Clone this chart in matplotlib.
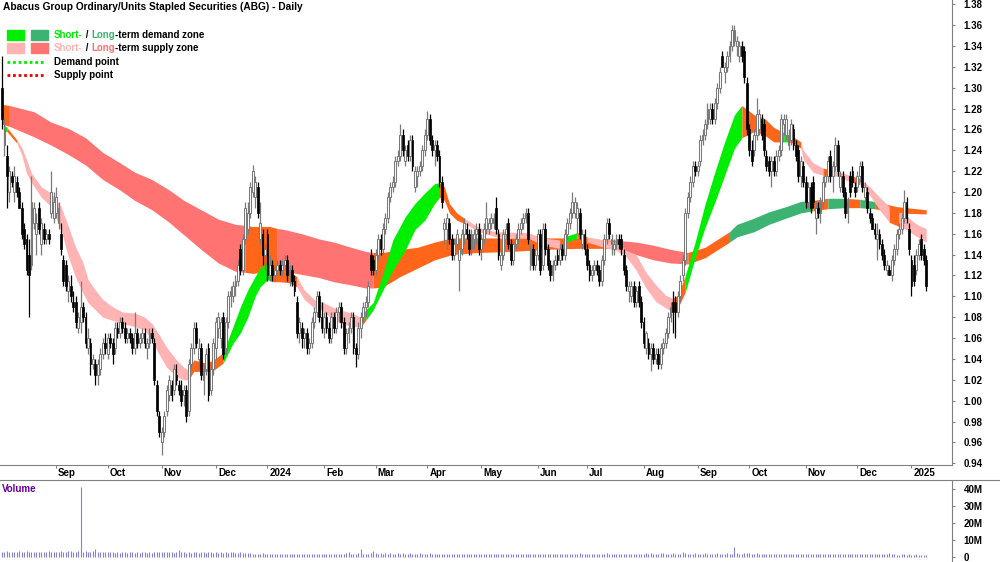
import numpy as np
import pandas as pd
import matplotlib
matplotlib.use("Agg")
import matplotlib.pyplot as plt
from matplotlib.patches import Rectangle
from matplotlib.lines import Line2D

plt.rcParams['font.family'] = ['Liberation Sans', 'DejaVu Sans']

# ---- daily prices in cents, first bar = 2 Aug 2023 (one line per month) ----
opens = [
    130, 124.5, 123.5, 120, 121.5, 120, 121, 120, 118.5, 116.5, 115.5, 114, 113, 117, 116, 118.5, 115, 116.5, 115.5, 116, 118, 117.5,
    118, 117, 116, 113.5, 113, 110.5, 111, 109.5, 109.5, 107, 107.5, 109, 108, 105, 105.5, 103.5, 103.5, 102.5, 103, 104.5, 105.5,
    104.5, 106, 105.5, 105, 107, 106.5, 107.5, 107, 106, 106.5, 106, 105, 106.5, 105.5, 106, 106.5, 105, 105.5, 106.5, 105.5, 101.5, 98.5,
    96, 97, 99, 100.5, 101.5, 101, 102.5, 101.5, 101, 100.5, 101, 99, 103.5, 105, 107, 104, 105, 102, 103, 105, 101, 103,
    105, 107, 106, 108, 105, 107.5, 110, 110, 111, 111.5, 114.5, 112.5, 115.5, 116.5, 118, 120, 119.5, 120.5, 115.5, 116, 114,
    116, 112, 113, 112, 112.5, 113, 112.5, 113, 113.5, 112, 112.5, 111.5, 109.5, 106.5, 107, 106, 106.5, 105, 105.5, 107.5, 108.5, 110, 108,
    107, 108, 107, 106, 108, 107, 108.5, 109, 107.5, 105, 106.5, 107, 108, 105, 104.5, 107, 108, 109, 109.5, 114, 113.5,
    112.5, 114, 115.5, 114.5, 116.5, 117.5, 119.5, 120.5, 121, 123, 123.5, 125.5, 123, 124.5, 123.5, 125, 120.5, 121.5, 122, 122.5, 124,
    125.5, 127, 125, 124, 124.5, 123.5, 121, 116.5, 116.5, 117, 115.5, 114, 115, 113.5, 114.5, 116, 116.5, 116, 114.5, 115.5, 116, 116.5,
    114.5, 115.5, 116.5, 116.5, 117, 117, 118.5, 116, 113, 114, 116, 117, 115, 113.5, 115, 115.5, 116.5, 117, 117.5, 118, 113, 114.5, 113,
    114, 116, 113, 116.5, 114.5, 113, 112, 113, 114, 113.5, 114.5, 114, 116, 117, 118, 118, 117.5, 118, 115, 116,
    114.5, 113, 112, 112.5, 113, 112.5, 111.5, 113.5, 115.5, 117, 115, 114.5, 115, 115.5, 115.5, 114, 112.5, 110.5, 110, 111, 109.5, 111, 109.5,
    107.5, 105, 105.5, 104.5, 105, 104, 104.5, 103.5, 105, 105.5, 106.5, 108, 109.5, 109.5, 108.5, 110, 112, 113.5, 118, 119.5, 121, 122.5,
    122, 123, 125, 125.5, 126.5, 127, 128, 127, 128.5, 130, 133, 131.5, 132, 133, 134, 134.5, 134, 133, 134, 133.5, 130.5,
    126, 124, 124, 125.5, 126, 127, 126.5, 123.5, 123, 122, 123, 122, 123.5, 124, 126.5, 125.5, 124.5, 125, 126, 124.5, 124, 121.5, 122.5,
    121, 119, 120.5, 121, 117.5, 118.5, 118, 119, 121, 121.5, 123.5, 121.5, 122.5, 124.5, 120.5, 121.5, 120, 118, 121.5, 122, 120.5,
    120.5, 121.5, 122.5, 119.5, 120, 118, 117.5, 116.5, 115.5, 116, 115, 114, 112.5, 112.5, 112, 113.5, 114.5, 116, 116.5, 117.5, 119, 116.5,
    113.5, 113, 112.5, 114, 115.5, 114.5, 113.5,
]
highs = [
    133, 127, 124.5, 122.5, 122, 122.5, 121.5, 120.5, 119, 117, 116, 115.5, 121.5, 119, 118, 119, 117.5, 117, 116.5, 116.5, 122, 120,
    120.5, 119, 117, 114, 113.5, 112, 112, 110.5, 110, 108.5, 111.5, 109.5, 108.5, 107, 106, 104.5, 104, 104, 105, 106, 106.5,
    106.5, 106.5, 106, 107.5, 107.5, 108, 108, 107.5, 107, 107, 106.5, 108.5, 107, 106.5, 107, 107, 106, 107, 107, 106, 102, 99,
    97.5, 99, 101.5, 102.5, 102, 103.5, 103.5, 102, 102, 101.5, 101.5, 104, 105.5, 107.5, 107.5, 106, 105.5, 103.5, 105, 105.5, 103.5, 106,
    108, 108.5, 108, 108.5, 108, 110.5, 111, 111.5, 112, 113.5, 115, 116, 119, 119, 121, 122.6, 121.5, 121, 119, 116.5, 115,
    116.5, 114, 113.5, 113, 113.5, 113.5, 113.5, 114, 114, 113, 113, 112, 110, 108, 107.5, 107, 107, 106, 108, 109, 110.5, 110.5, 109.5,
    108.5, 108.5, 107.5, 108.5, 108.5, 109, 109.5, 109.5, 108, 107, 107.5, 108.5, 108.5, 105.5, 107.5, 108.5, 109.5, 110, 111.5, 114.5, 114,
    114.5, 116, 116, 117, 118, 120, 121, 121.5, 123.5, 124, 126.5, 126, 124.5, 125, 125.5, 125.5, 122.5, 122.5, 123, 124.5, 126,
    127.8, 127.5, 125.5, 125, 125, 124, 121.5, 117.5, 118, 117.5, 116, 115.5, 116.5, 115.5, 116.5, 117.5, 117, 116.5, 116.5, 116.5, 117, 117,
    116, 117, 119, 117.5, 118, 118, 119.5, 116.5, 114.5, 116.5, 117, 117.5, 115.5, 115.5, 116, 117, 117.5, 118, 118.5, 118.5, 115, 115, 114.5,
    116.5, 116.5, 117, 117, 115, 113.5, 113.5, 114, 114.5, 115, 115, 116.5, 117.5, 118.5, 120, 119.5, 119, 118.5, 116.5, 116.5,
    115, 113.5, 113, 113.5, 113.5, 113, 114, 116, 117.5, 117.5, 116, 115.5, 116, 116, 116, 114.5, 113, 111.5, 111.5, 111.5, 111, 111.5, 110,
    108, 106.7, 106, 105.5, 105.5, 105, 105, 105.5, 106, 107, 108.5, 109.5, 110.5, 110, 110.5, 112, 114, 118.5, 120, 121.5, 123, 123,
    123, 125.5, 126, 127, 128.5, 128.5, 128.5, 129, 130.5, 132, 133.5, 132.5, 133.5, 134.5, 136, 136, 135, 134.5, 134.5, 134, 131,
    126.5, 125, 126, 129, 128, 127.5, 127, 124, 123.5, 123.5, 123.5, 124, 124.5, 127.5, 127.5, 127.5, 126, 127, 126.5, 125, 124.5, 123.5, 123,
    121.5, 121, 121, 121.5, 119, 119, 119.5, 121.5, 122, 123.5, 124, 123, 125.3, 125, 122, 122, 120.5, 119.5, 122, 122.5, 121,
    122, 123, 123, 121, 120.5, 118.5, 118, 117, 117, 116.5, 115.5, 114.5, 113.5, 113, 114, 115, 116.5, 117, 118, 120.2, 119.5, 117,
    114, 114, 114.5, 115.5, 116, 115, 114,
]
lows = [
    126, 123.5, 118.5, 119, 120.5, 119, 119.5, 118.5, 115.5, 114.5, 112, 108, 112.5, 116.5, 114, 116, 114, 115, 115, 115, 117.5, 117,
    117.5, 116.5, 114, 111, 110.5, 109.5, 109.5, 108.5, 107, 106.5, 106.5, 107.5, 105, 104.5, 102.5, 103, 101.5, 101.5, 102.5, 104, 104.5,
    104, 105, 103.5, 104.5, 106, 106, 106.5, 105.5, 105.5, 105.5, 104.5, 104.5, 105, 105, 105.5, 105, 104, 105, 105.5, 101.5, 98.5, 96.5,
    94.8, 96.5, 98.5, 100, 100, 100.5, 101.5, 100.5, 99.5, 99.5, 98, 98.5, 103, 104.5, 105, 103, 102, 100.5, 102.5, 100, 100.5, 102.5,
    104, 106, 105, 104, 104.5, 107, 109, 109.5, 110, 111, 112, 112, 115, 116, 117.5, 119.5, 118.5, 117.5, 115, 113, 112.5,
    111.5, 111.5, 111.5, 111.5, 112, 112, 112, 112.5, 111.5, 111, 111, 110, 106, 105.5, 105, 105, 104.5, 104.5, 105, 107, 108, 107.5, 106.5,
    106, 106.5, 105.5, 105.5, 106.5, 106.5, 107.5, 107, 104.5, 104.5, 105.5, 106.5, 104.5, 103.2, 104, 106, 107.5, 108, 109, 112, 112,
    112, 113.5, 114, 114, 116, 117, 119, 120, 120.5, 122.5, 123, 123.5, 122.5, 123, 123, 122, 120, 120.5, 121.5, 122, 123.5,
    125, 124.5, 123.5, 122.5, 123, 120.5, 118.5, 115, 114.5, 115, 113.5, 113.5, 114.5, 110.5, 114, 115, 115.5, 114, 114, 114.5, 115, 114,
    113.5, 115, 116, 116, 116.5, 116.5, 116, 113.5, 112.5, 113.5, 115.5, 114.5, 113, 113, 114.5, 115, 116, 116.5, 117, 115, 112.5, 112.5, 112.5,
    113.5, 112, 112.5, 114, 112.5, 111.5, 111.5, 112.5, 113, 113, 113.5, 113.5, 115.5, 116.5, 117.5, 117.5, 116, 115.5, 114.5, 114,
    112.5, 111.5, 111.5, 112, 112, 111, 111, 113, 115, 115.5, 114, 114, 114.5, 114.5, 114, 112, 110.5, 109.5, 109.5, 109, 109, 109, 107,
    105, 104.5, 104, 102.8, 103.5, 103.5, 103, 103, 104.5, 105, 106, 107.5, 106.5, 106, 108, 109.5, 111.5, 113, 117.5, 119, 120.5, 121.5,
    121.5, 122.5, 124.5, 125, 126, 126.5, 126.5, 126.5, 128, 129.5, 132, 130.5, 131.5, 132.5, 133.5, 134, 133, 132.5, 132.5, 130.5, 125.5,
    123.5, 122.5, 123.5, 125, 125.5, 125, 123.5, 122, 121.5, 120.5, 121.5, 121.5, 123, 123.5, 125.5, 125, 124, 124.5, 124, 123, 121, 120.5, 120.5,
    118.5, 118.5, 118, 118.5, 116, 117.5, 117, 118.5, 120.5, 121, 121, 120, 122, 121.5, 120, 119.5, 117.5, 117, 119.5, 120.5, 119.5,
    120, 121, 120, 119, 118, 117, 116.5, 115.5, 113.5, 114.5, 113.5, 112.5, 112, 112, 111.5, 113, 114, 115.5, 116, 117, 117, 114,
    110, 111, 112, 113.5, 113.5, 113, 110.5,
]
closes = [
    127, 126, 121.5, 122, 121, 121.5, 120, 118.5, 116, 115, 112.5, 112, 119, 118.5, 117, 116.5, 117, 115.5, 116, 115.5, 120, 119,
    119.5, 118.5, 114.5, 111.5, 111, 111.5, 110, 109, 107.5, 108, 109, 108, 105.5, 106, 103.5, 104, 102.5, 103.5, 104.5, 105.5, 105,
    106, 105.5, 104.5, 107, 106.5, 107.5, 107, 106, 106.5, 106, 105, 106.5, 105.5, 106, 106.5, 105.5, 105.5, 106.5, 106, 102, 99, 97,
    97, 98.5, 101, 102, 100.5, 103, 102, 101, 100, 101, 98.5, 103.5, 105, 107, 105.5, 105, 102.5, 103, 104.5, 100.5, 103, 105.5,
    107.5, 108, 107.5, 104.5, 107.5, 110, 110.5, 111, 111.5, 113, 112.5, 115.5, 118.5, 118, 120.5, 122, 121, 118, 117, 114, 114.5,
    112, 113, 112, 112.5, 113, 112.5, 113, 113.5, 112, 112.5, 111.5, 110.5, 106.5, 107.5, 106, 106.5, 105, 105.5, 107.5, 108.5, 110, 108, 107,
    108, 107, 106, 108, 107, 108.5, 109, 107.5, 105, 106.5, 107, 108, 105, 104.5, 107, 108, 109, 109.5, 111, 112.5, 112.5,
    114, 115.5, 114.5, 116.5, 117.5, 119.5, 120.5, 121, 123, 123.5, 125.5, 124, 124, 123.5, 125, 122.5, 122, 122, 122.5, 124, 125.5,
    127, 125, 124, 124.5, 123.5, 121, 119, 117, 117.5, 115.5, 114, 115, 116, 114.5, 116, 117, 116, 114.5, 116, 116, 116.5, 114.5,
    115.5, 116.5, 117.5, 117, 117.5, 117.5, 116.5, 114, 114, 116, 116.5, 115, 113.5, 115, 115.5, 116.5, 117, 117.5, 118, 115.5, 114.5, 113, 114,
    116, 112.5, 116.5, 114.5, 113, 112, 113, 113.5, 113.5, 114.5, 114, 116, 117, 118, 119, 119, 118.5, 116, 116, 114.5,
    113, 112, 112.5, 113, 112.5, 111.5, 113.5, 115.5, 117, 116, 115.5, 115, 115.5, 115, 114.5, 112.5, 111, 111, 111, 109.5, 110.5, 109.5, 107.5,
    105.5, 106.5, 104.5, 105, 104, 104.5, 103.5, 105, 105.5, 106.5, 108, 109, 108.5, 108.5, 110, 111.5, 113.5, 118, 119.5, 121, 122.5, 122,
    122.5, 125, 125.5, 126.5, 128, 128, 127, 128.5, 130, 131.5, 132, 132, 133, 134, 135.5, 135.5, 134.5, 134, 133, 131, 126,
    124, 123, 125.5, 127.5, 127.5, 125.5, 124, 122.5, 122, 123, 122, 123.5, 124, 127, 127, 127, 125.5, 126.5, 124.5, 123.5, 121.5, 123, 121,
    119, 120.5, 118.5, 119, 118.5, 118, 119, 121, 121.5, 123, 121.5, 122.5, 124.5, 122, 121.5, 120, 118, 119, 120, 121, 120,
    121.5, 122.5, 120.5, 120.5, 118.5, 117.5, 116.5, 116, 116, 115, 114, 113, 113, 112, 113.5, 114.5, 116, 116.5, 117.5, 119, 117.5, 114.5,
    111, 111.5, 114, 115, 114, 113.5, 111,
]
# daily volume, millions of units
volume_m = [
    3.2, 2.9, 3.4, 2.8, 3.0, 2.7, 3.1, 3.3, 2.9, 3.0, 3.6, 3.2, 2.8, 3.0, 2.9, 3.1, 2.7, 3.0, 2.8, 3.3, 3.0, 2.9,
    3.1, 3.0, 3.4, 3.2, 2.9, 3.5, 3.3, 3.0, 3.1, 3.8, 41.0, 3.2, 3.4, 3.0, 3.1, 3.6, 4.7, 3.1, 2.9, 3.2, 3.0,
    2.8, 2.7, 3.0, 2.6, 2.9, 2.5, 2.7, 2.8, 2.6, 3.0, 2.7, 2.5, 2.8, 2.6, 2.9, 2.7, 2.6, 2.8, 2.5, 2.7, 3.2, 3.0,
    3.1, 2.8, 3.0, 2.7, 2.9, 2.6, 3.0, 4.1, 2.8, 2.7, 2.6, 2.9, 2.5, 2.7, 2.8, 2.6, 2.7, 2.9, 2.6, 2.8, 2.7, 2.5,
    2.7, 2.6, 2.8, 2.5, 2.7, 2.6, 2.9, 2.8, 2.6, 2.5, 2.7, 2.4, 2.6, 2.5, 2.3, 2.0, 1.8, 1.9, 2.0, 2.1, 1.7,
    1.9, 1.8, 2.0, 1.7, 1.9, 1.8, 2.0, 1.7, 1.8, 1.9, 1.6, 1.8, 1.7, 1.9, 1.6, 1.8, 1.7, 1.6, 1.8, 1.7, 1.9, 1.6, 1.8,
    1.7, 1.8, 1.6, 1.9, 1.7, 1.8, 2.0, 1.7, 1.9, 2.2, 3.0, 2.0, 1.9, 1.8, 2.1, 4.7, 1.9, 1.8, 2.0, 2.4, 3.5,
    2.2, 1.9, 2.3, 2.0, 2.1, 1.9, 2.4, 2.0, 1.8, 2.1, 1.9, 2.2, 2.0, 1.8, 2.1, 1.9, 2.0, 1.8, 2.2, 1.9, 2.0,
    1.9, 2.1, 1.8, 2.0, 1.9, 1.7, 2.0, 1.8, 1.9, 1.7, 2.0, 1.8, 1.6, 1.9, 1.7, 1.8, 1.6, 1.9, 1.7, 1.8, 1.6, 1.7,
    1.8, 1.6, 1.7, 1.9, 1.6, 1.8, 1.7, 1.6, 1.8, 1.7, 1.9, 1.6, 1.7, 1.8, 1.6, 1.7, 1.9, 1.6, 1.8, 1.7, 1.6, 1.8, 1.7,
    1.6, 1.8, 1.7, 1.9, 1.6, 1.7, 1.8, 1.6, 1.7, 1.9, 1.6, 1.8, 1.7, 1.6, 1.8, 1.7, 1.9, 2.4, 1.7, 1.8,
    1.7, 1.6, 1.8, 1.7, 1.9, 1.6, 1.8, 1.7, 2.6, 1.8, 1.7, 1.6, 1.9, 1.7, 1.8, 1.6, 1.7, 1.9, 1.8, 1.7, 1.6, 1.8, 1.9,
    2.0, 2.2, 1.9, 2.1, 1.8, 2.0, 1.9, 2.1, 2.6, 1.9, 2.0, 1.8, 2.1, 1.9, 2.0, 1.8, 2.7, 2.1, 1.9, 2.0, 1.8, 2.2,
    1.9, 2.0, 1.8, 2.1, 1.9, 2.0, 1.8, 1.9, 2.1, 1.8, 2.0, 1.9, 2.1, 1.8, 2.0, 5.8, 2.1, 1.9, 2.0, 2.3, 2.6,
    2.2, 2.0, 1.9, 2.1, 1.8, 2.0, 1.9, 1.8, 2.0, 1.7, 1.9, 1.8, 1.7, 1.9, 1.8, 1.6, 1.8, 1.7, 1.9, 1.6, 1.8, 1.7, 1.9,
    1.7, 1.8, 1.6, 1.8, 1.7, 1.9, 1.6, 1.8, 1.7, 1.6, 1.8, 1.7, 1.9, 1.6, 1.7, 1.8, 1.6, 1.7, 1.8, 1.6, 1.7,
    1.7, 1.6, 1.8, 1.7, 1.6, 1.8, 1.7, 1.9, 1.6, 1.8, 1.7, 1.6, 2.0, 2.6, 1.8, 1.5, 1.3, 1.4, 1.6, 1.5, 1.4, 1.5,
    1.4, 1.3, 1.5, 1.4, 1.3, 1.4, 1.2,
]

# ---- trend zones, read at sample bars: bar index, upper edge, lower edge, zone state ----
# states: G short demand, D long demand, P short supply, R long supply, O overlap/neutral
long_idx = [0, 3, 13, 20, 27, 34, 41, 48, 54, 61, 68, 74, 81, 88, 95, 99, 102, 109, 112, 115, 122, 129,
            135, 142, 148, 151, 155, 162, 169, 176, 183, 193, 207, 220, 234, 247, 249, 258, 265, 272, 279,
            286, 292, 296, 299, 306, 312, 319, 325, 330, 336, 343, 349, 355, 364, 376]
long_hi = [1.284, 1.283, 1.277, 1.267, 1.261, 1.252, 1.238, 1.228, 1.219, 1.212, 1.202, 1.192, 1.183, 1.174,
           1.169, 1.168, 1.167, 1.167, 1.165, 1.164, 1.160, 1.155, 1.152, 1.147, 1.143, 1.142, 1.142, 1.145,
           1.147, 1.152, 1.156, 1.156, 1.156, 1.156, 1.156, 1.154, 1.154, 1.152, 1.149, 1.145, 1.142, 1.147,
           1.156, 1.162, 1.169, 1.175, 1.181, 1.186, 1.191, 1.192, 1.194, 1.194, 1.193, 1.191, 1.186, 1.183]
long_lo = [1.265, 1.263, 1.253, 1.245, 1.236, 1.226, 1.212, 1.202, 1.192, 1.183, 1.171, 1.159, 1.145, 1.132,
           1.124, 1.123, 1.122, 1.124, 1.124, 1.124, 1.121, 1.118, 1.114, 1.111, 1.108, 1.108, 1.109, 1.119,
           1.127, 1.135, 1.140, 1.142, 1.143, 1.145, 1.146, 1.146, 1.145, 1.140, 1.135, 1.132, 1.131, 1.137,
           1.146, 1.152, 1.157, 1.162, 1.169, 1.175, 1.180, 1.182, 1.184, 1.185, 1.185, 1.184, 1.180, 1.179]
long_state = ['O', 'R', 'R', 'R', 'R', 'R', 'R', 'R', 'R', 'R', 'R', 'R', 'R', 'R', 'R', 'O', 'O', 'O', 'R', 'R',
              'R', 'R', 'R', 'R', 'R', 'O', 'O', 'O', 'O', 'O', 'O', 'O', 'O', 'O', 'O', 'O', 'R', 'R', 'R', 'R',
              'O', 'O', 'O', 'D', 'D', 'D', 'D', 'D', 'D', 'O', 'D', 'O', 'D', 'O', 'O', 'O']

short_idx = [1, 2, 6, 8, 10, 12, 16, 20, 24, 27, 30, 33, 35, 38, 41, 45, 49, 54, 58, 61, 64, 67, 71, 74,
             76, 78, 83, 86, 90, 94, 97, 100, 103, 105, 108, 110, 113, 117, 120, 123, 127, 130, 135, 142,
             146, 148, 151, 155, 159, 164, 168, 172, 176, 178, 180, 182, 185, 188, 194, 201, 214, 220, 227,
             230, 234, 236, 238, 245, 250, 254, 258, 262, 266, 270, 273, 275, 278, 282, 286, 290, 294, 298,
             301, 306, 310, 314, 318, 320, 322, 325, 326, 330, 334, 338, 341, 345, 349, 353, 357, 361, 365,
             368, 371, 373, 376]
short_hi = [1.264, 1.262, 1.250, 1.243, 1.231, 1.218, 1.205, 1.199, 1.186, 1.167, 1.147, 1.132, 1.116, 1.106,
            1.097, 1.090, 1.085, 1.084, 1.080, 1.074, 1.063, 1.051, 1.039, 1.032, 1.029, 1.039, 1.036, 1.039,
            1.046, 1.071, 1.090, 1.106, 1.119, 1.127, 1.132, 1.128, 1.128, 1.123, 1.119, 1.106, 1.097, 1.095,
            1.089, 1.084, 1.080, 1.087, 1.094, 1.122, 1.154, 1.176, 1.189, 1.199, 1.208, 1.209, 1.205, 1.189,
            1.180, 1.175, 1.166, 1.162, 1.161, 1.156, 1.154, 1.158, 1.161, 1.159, 1.157, 1.154, 1.152, 1.144,
            1.140, 1.123, 1.111, 1.101, 1.098, 1.101, 1.120, 1.152, 1.188, 1.219, 1.248, 1.274, 1.283, 1.274,
            1.271, 1.262, 1.257, 1.255, 1.253, 1.248, 1.240, 1.228, 1.223, 1.221, 1.219, 1.216, 1.213, 1.205,
            1.195, 1.186, 1.181, 1.177, 1.171, 1.168, 1.165]
short_lo = [1.258, 1.258, 1.247, 1.236, 1.218, 1.209, 1.195, 1.186, 1.164, 1.138, 1.118, 1.103, 1.094, 1.087,
            1.080, 1.077, 1.074, 1.071, 1.068, 1.058, 1.044, 1.032, 1.023, 1.020, 1.020, 1.028, 1.028, 1.029,
            1.036, 1.055, 1.065, 1.080, 1.100, 1.109, 1.116, 1.114, 1.114, 1.113, 1.109, 1.097, 1.089, 1.087,
            1.077, 1.071, 1.071, 1.077, 1.087, 1.106, 1.125, 1.144, 1.164, 1.173, 1.189, 1.195, 1.192, 1.180,
            1.173, 1.170, 1.162, 1.157, 1.156, 1.149, 1.146, 1.152, 1.156, 1.154, 1.152, 1.147, 1.144, 1.138,
            1.125, 1.108, 1.095, 1.089, 1.085, 1.089, 1.104, 1.137, 1.166, 1.190, 1.216, 1.242, 1.252, 1.258,
            1.255, 1.248, 1.248, 1.248, 1.247, 1.242, 1.231, 1.219, 1.216, 1.216, 1.214, 1.210, 1.207, 1.197,
            1.183, 1.171, 1.167, 1.164, 1.159, 1.156, 1.152]
short_state = ['G', 'O', 'P', 'P', 'P', 'P', 'P', 'P', 'P', 'P', 'P', 'P', 'P', 'P', 'P', 'P', 'P', 'P', 'P',
               'P', 'P', 'P', 'P', 'P', 'O', 'O', 'O', 'O', 'G', 'G', 'G', 'G', 'G', 'G', 'G', 'O', 'O', 'O',
               'P', 'P', 'P', 'P', 'P', 'P', 'O', 'G', 'G', 'G', 'G', 'G', 'G', 'G', 'G', 'O', 'O', 'O', 'O',
               'P', 'P', 'P', 'P', 'P', 'O', 'G', 'O', 'O', 'P', 'P', 'P', 'P', 'P', 'P', 'P', 'P', 'O', 'O',
               'G', 'G', 'G', 'G', 'G', 'G', 'O', 'O', 'O', 'O', 'G', 'O', 'O', 'P', 'P', 'P', 'O', 'P', 'P',
               'O', 'P', 'P', 'P', 'O', 'P', 'P', 'P', 'P', 'P']

zone_colors = {'G': '#00ee00', 'D': '#3cb371', 'P': '#ffb3b3', 'R': '#ff7373', 'O': '#ff661a'}

W, H = 1000, 562
o = np.array(opens) / 100
h = np.array(highs) / 100
l = np.array(lows) / 100
c = np.array(closes) / 100
vol = np.array(volume_m) * 1e6
n = len(c)
lens = [len(o), len(h), len(l), len(c), len(vol)]
assert len(set(lens)) == 1, lens
x = np.arange(n)
dates = pd.bdate_range('2023-08-02', periods=n)


def draw_zone(ax, idx, hi, lo, states, z):
    idx, hi, lo = np.asarray(idx), np.asarray(hi), np.asarray(lo)
    start = 0
    for k in range(1, len(idx)):
        if k == len(idx) - 1 or states[k] != states[start]:
            ax.fill_between(idx[start:k + 1], lo[start:k + 1], hi[start:k + 1],
                            color=zone_colors[states[start]], lw=0, zorder=z)
            start = k


fig = plt.figure(figsize=(W / 100, H / 100), dpi=100)
ax = fig.add_axes([0, 1 - 465 / H, 952 / W, 465 / H])
axv = fig.add_axes([0, 0, 952 / W, 82 / H])

draw_zone(ax, long_idx, long_hi, long_lo, long_state, 1)
draw_zone(ax, short_idx, short_hi, short_lo, short_state, 2)

# candles: hollow grey up days, solid black down days
up = c >= o
ax.vlines(x[up], l[up], h[up], color='#7a7a7a', lw=0.9, zorder=3)
ax.vlines(x[~up], l[~up], h[~up], color='black', lw=0.9, zorder=3)
body_lo = np.minimum(o, c)
body_h = np.maximum(np.abs(c - o), 0.002)
ax.bar(x[up], body_h[up], bottom=body_lo[up], width=0.75, color='white', edgecolor='#7a7a7a', lw=0.75, zorder=4)
ax.bar(x[~up], body_h[~up], bottom=body_lo[~up], width=0.75, color='black', edgecolor='black', lw=0.5, zorder=4)

ax.set_xlim(-0.8, 386.5)
ax.set_ylim(0.9383, 1.3841)
ax.yaxis.tick_right()
ax.set_yticks(np.arange(0.94, 1.3801, 0.02))
ax.set_yticklabels([f'{v:.2f}' for v in np.arange(0.94, 1.3801, 0.02)])
ax.tick_params(axis='y', direction='out', length=2.5, color='#808080', labelsize=7, pad=6)
for t in ax.get_yticklabels():
    t.set_fontweight('bold')

# month ticks on the date strip
month_pos = [i for i in range(1, n) if dates[i].month != dates[i - 1].month]
ax.set_xticks(month_pos)
ax.tick_params(axis='x', direction='out', length=2.5, color='#808080', labelbottom=False)
for i in month_pos:
    d = dates[i]
    lab = str(d.year) if d.month == 1 else d.strftime('%b')
    ax.annotate(lab, xy=(i, 0), xycoords=('data', 'axes fraction'), xytext=(1.5, -2.5),
                textcoords='offset points', ha='left', va='top', fontsize=7, fontweight='bold',
                annotation_clip=False)

for sp in ['top', 'left']:
    ax.spines[sp].set_visible(False)
for sp in ['right', 'bottom']:
    ax.spines[sp].set_color('#808080')
    ax.spines[sp].set_linewidth(0.8)

# volume
axv.vlines(x, 0, vol, color='#8080dd', lw=0.8)
axv.set_xlim(-0.8, 386.5)
axv.set_ylim(-2.94e6, 45.3e6)
axv.yaxis.tick_right()
axv.set_yticks([0, 10e6, 20e6, 30e6, 40e6])
axv.set_yticklabels(['0', '10M', '20M', '30M', '40M'])
axv.tick_params(axis='y', direction='out', length=2.5, color='#808080', labelsize=7, pad=6)
for t in axv.get_yticklabels():
    t.set_fontweight('bold')
axv.set_xticks([])
for sp in ['top', 'left', 'bottom']:
    axv.spines[sp].set_visible(False)
axv.spines['right'].set_color('#808080')
axv.spines['right'].set_linewidth(0.8)
fig.add_artist(Line2D([0, 1], [82 / H, 82 / H], color='#808080', lw=0.8, transform=fig.transFigure))
fig.text(2 / W, 1 - 489 / H, 'Volume', color='#660099', fontsize=7, fontweight='bold', va='center')

# title
fig.text(3 / W, 1 - 7 / H, 'Abacus Group Ordinary/Units Stapled Securities (ABG) - Daily',
         fontsize=7.3, fontweight='bold', va='center', ha='left')

# legend
renderer = fig.canvas.get_renderer()


def colour_text(x_px, y_px, parts):
    xx = x_px
    for s, col in parts:
        t = fig.text(xx / W, 1 - y_px / H, s, color=col, fontsize=7, fontweight='bold', va='center', ha='left')
        xx += t.get_window_extent(renderer=renderer).width


rows = [35, 48, 62, 75]
for (y0, short_c, long_c) in [(rows[0], zone_colors['G'], zone_colors['D']),
                              (rows[1], zone_colors['P'], zone_colors['R'])]:
    fig.add_artist(Rectangle((7 / W, 1 - (y0 + 5) / H), 17 / W, 10 / H, color=short_c, transform=fig.transFigure))
    fig.add_artist(Rectangle((31 / W, 1 - (y0 + 5) / H), 17 / W, 10 / H, color=long_c, transform=fig.transFigure))
colour_text(54, rows[0], [('Short-', zone_colors['G']), (' / ', 'black'), ('Long', zone_colors['D']),
                          ('-term demand zone', 'black')])
colour_text(54, rows[1], [('Short-', zone_colors['P']), (' / ', 'black'), ('Long', '#ff7070'),
                          ('-term supply zone', 'black')])
fig.add_artist(Line2D([7 / W, 45 / W], [1 - rows[2] / H] * 2, color='#00ee00', lw=2, ls=(0, (1, 1)),
                      transform=fig.transFigure))
fig.add_artist(Line2D([7 / W, 45 / W], [1 - rows[3] / H] * 2, color='#ee0000', lw=2, ls=(0, (1, 1)),
                      transform=fig.transFigure))
fig.text(54 / W, 1 - rows[2] / H, 'Demand point', fontsize=7, fontweight='bold', va='center')
fig.text(54 / W, 1 - rows[3] / H, 'Supply point', fontsize=7, fontweight='bold', va='center')

fig.savefig('out.png', dpi=100)
